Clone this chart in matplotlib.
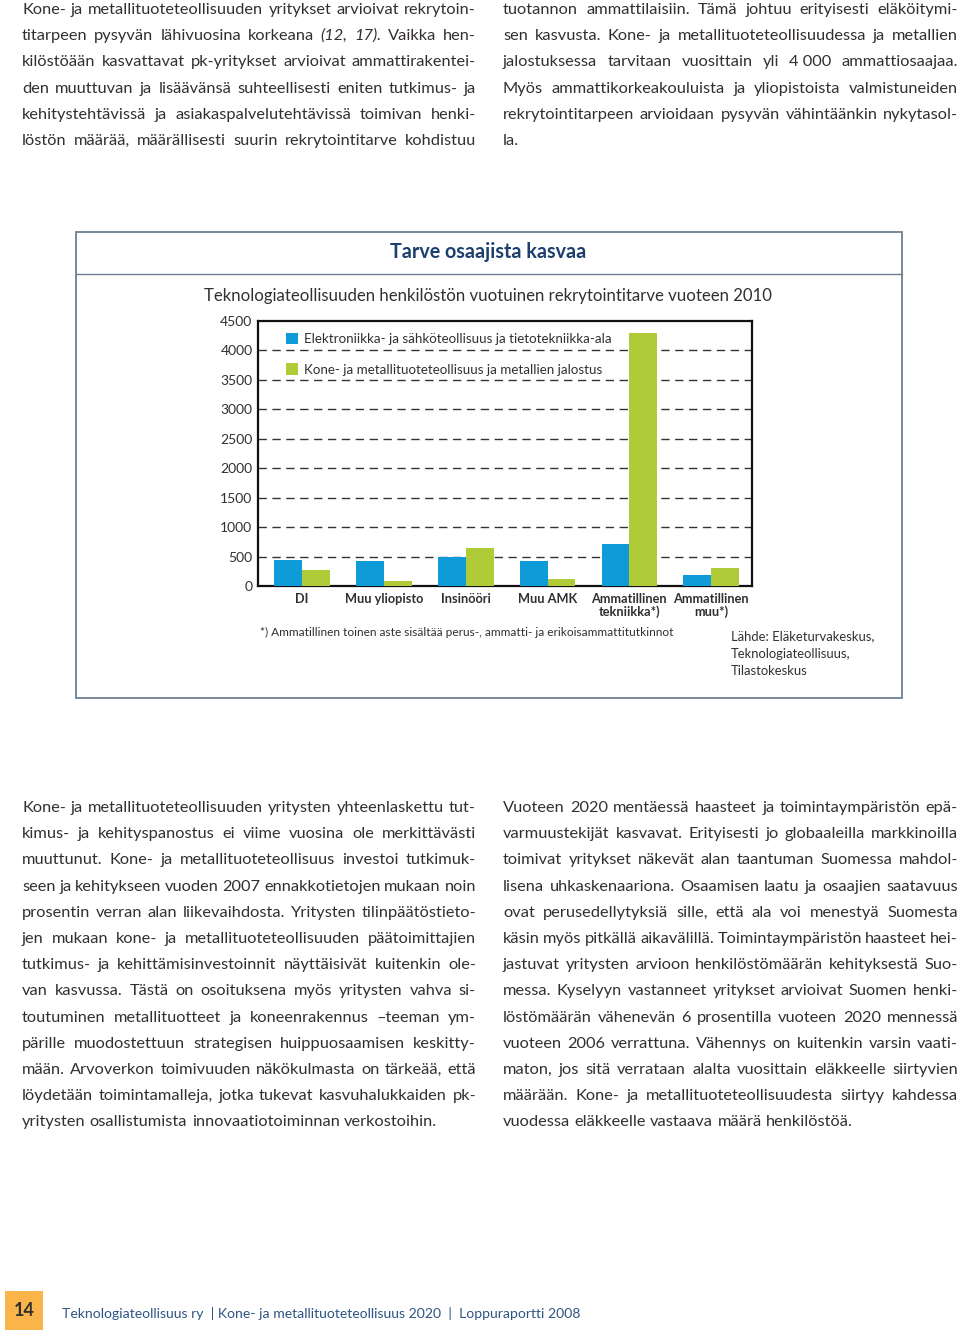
import matplotlib
matplotlib.use('Agg')
import matplotlib.pyplot as plt
from matplotlib.font_manager import FontProperties
from matplotlib.patches import Rectangle
from matplotlib.lines import Line2D
import numpy as np

# chart data
categories = ['DI', 'Muu yliopisto', 'Insinööri', 'Muu AMK',
              'Ammatillinen\ntekniikka*)', 'Ammatillinen\nmuu*)']
elektroniikka = [450, 420, 500, 420, 710, 180]
kone_metalli = [270, 90, 650, 120, 4300, 300]
series_names = ['Elektroniikka- ja sähköteollisuus ja tietotekniikka-ala',
                'Kone- ja metallituoteteollisuus ja metallien jalostus']
yticks = [0, 500, 1000, 1500, 2000, 2500, 3000, 3500, 4000, 4500]

title = 'Tarve osaajista kasvaa'
subtitle = 'Teknologiateollisuuden henkilöstön vuotuinen rekrytointitarve vuoteen 2010'
footnote = '*) Ammatillinen toinen aste sisältää perus-, ammatti- ja erikoisammattitutkinnot'
source = 'Lähde: Eläketurvakeskus,\nTeknologiateollisuus,\nTilastokeskus'

# body text, one entry per printed line ("~" marks italic words)
top_left = [
    'Kone- ja metallituoteteollisuuden yritykset arvioivat rekrytoin-',
    'titarpeen pysyvän lähivuosina korkeana ~(12, ~17). Vaikka hen-',
    'kilöstöään kasvattavat pk-yritykset arvioivat ammattirakentei-',
    'den muuttuvan ja lisäävänsä suhteellisesti eniten tutkimus- ja',
    'kehitystehtävissä ja asiakaspalvelutehtävissä toimivan henki-',
    'löstön määrää, määrällisesti suurin rekrytointitarve kohdistuu',
]
top_right = [
    'tuotannon ammattilaisiin. Tämä johtuu erityisesti eläköitymi-',
    'sen kasvusta. Kone- ja metallituoteteollisuudessa ja metallien',
    'jalostuksessa tarvitaan vuosittain yli 4\u00a0000 ammattiosaajaa.',
    'Myös ammattikorkeakouluista ja yliopistoista valmistuneiden',
    'rekrytointitarpeen arvioidaan pysyvän vähintäänkin nykytasol-',
    'la.',
]
bottom_left = [
    'Kone- ja metallituoteteollisuuden yritysten yhteenlaskettu tut-',
    'kimus- ja kehityspanostus ei viime vuosina ole merkittävästi',
    'muuttunut. Kone- ja metallituoteteollisuus investoi tutkimuk-',
    'seen ja kehitykseen vuoden 2007 ennakkotietojen mukaan noin',
    'prosentin verran alan liikevaihdosta. Yritysten tilinpäätöstieto-',
    'jen mukaan kone- ja metallituoteteollisuuden päätoimittajien',
    'tutkimus- ja kehittämisinvestoinnit näyttäisivät kuitenkin ole-',
    'van kasvussa. Tästä on osoituksena myös yritysten vahva si-',
    'toutuminen metallituotteet ja koneenrakennus –teeman ym-',
    'pärille muodostettuun strategisen huippuosaamisen keskitty-',
    'mään. Arvoverkon toimivuuden näkökulmasta on tärkeää, että',
    'löydetään toimintamalleja, jotka tukevat kasvuhalukkaiden pk-',
    'yritysten osallistumista innovaatiotoiminnan verkostoihin.',
]
bottom_right = [
    'Vuoteen 2020 mentäessä haasteet ja toimintaympäristön epä-',
    'varmuustekijät kasvavat. Erityisesti jo globaaleilla markkinoilla',
    'toimivat yritykset näkevät alan taantuman Suomessa mahdol-',
    'lisena uhkaskenaariona. Osaamisen laatu ja osaajien saatavuus',
    'ovat perusedellytyksiä sille, että ala voi menestyä Suomesta',
    'käsin myös pitkällä aikavälillä. Toimintaympäristön haasteet hei-',
    'jastuvat yritysten arvioon henkilöstömäärän kehityksestä Suo-',
    'messa. Kyselyyn vastanneet yritykset arvioivat Suomen henki-',
    'löstömäärän vähenevän 6 prosentilla vuoteen 2020 mennessä',
    'vuoteen 2006 verrattuna. Vähennys on kuitenkin varsin vaati-',
    'maton, jos sitä verrataan alalta vuosittain eläkkeelle siirtyvien',
    'määrään. Kone- ja metallituoteteollisuudesta siirtyy kahdessa',
    'vuodessa eläkkeelle vastaava määrä henkilöstöä.',
]
footer = 'Teknologiateollisuus ry  | Kone- ja metallituoteteollisuus 2020  |  Loppuraportti 2008'
page_no = '14'

BLUE = '#0f9ad8'
GREEN = '#afcb37'
TEXT = '#332f30'
FRAME = '#6d8093'

W, H = 960, 1333
plt.rcParams['font.family'] = ['Lato', 'DejaVu Sans']
fig = plt.figure(figsize=(W / 100, H / 100), dpi=100)
renderer = fig.canvas.get_renderer()


def fx(x):
    return x / W


def fy(y):
    return 1 - y / H


body_fp = FontProperties(family=['Lato', 'DejaVu Sans'], size=11.8)
ital_fp = FontProperties(family=['Lato', 'DejaVu Sans'], style='italic', size=11.8)


def text_w(s, fp):
    return renderer.get_text_width_height_descent(s, fp, ismath=False)[0]


def put_block(lines, x0, x1, y0, step, last_justified=False):
    for i, line in enumerate(lines):
        y = round(y0 + i * step)  # whole pixels keep the words on one baseline
        words = line.split(' ')
        last = (i == len(lines) - 1) and not last_justified
        props = [ital_fp if w.startswith('~') else body_fp for w in words]
        words = [w.lstrip('~') for w in words]
        widths = [text_w(w, p) for w, p in zip(words, props)]
        if last or len(words) == 1:
            gap = text_w('a a', body_fp) - text_w('aa', body_fp)
        else:
            gap = (x1 - x0 - sum(widths)) / (len(words) - 1)
        x = x0
        for w, p, wd in zip(words, props, widths):
            fig.text(fx(x), fy(y), w, fontproperties=p, color=TEXT,
                     ha='left', va='baseline')
            x += wd + gap


put_block(top_left, 22, 476, 14, 26.2, last_justified=True)
put_block(top_right, 503, 958, 14, 26.2)
put_block(bottom_left, 22, 476, 812, 26.2)
put_block(bottom_right, 503, 958, 812, 26.2)

# chart frame
fig.patches.append(Rectangle((fx(76), fy(698)), fx(902) - fx(76), fy(232) - fy(698),
                             transform=fig.transFigure, fill=False,
                             edgecolor=FRAME, lw=1.3))
fig.lines.append(Line2D([fx(76), fx(902)], [fy(274), fy(274)],
                        transform=fig.transFigure, color=FRAME, lw=1.0))
fig.text(fx(488), fy(252), title, ha='center', va='center', fontsize=14.2,
         fontweight='bold', color='#1c3f6e')
fig.text(fx(488), fy(296), subtitle, ha='center', va='center', fontsize=12.1,
         color=TEXT)

ax = fig.add_axes([fx(258), fy(586), fx(752) - fx(258), fy(321) - fy(586)])
x = np.arange(len(categories))
bw = 0.34
ax.bar(x - bw / 2, elektroniikka, bw, color=BLUE, zorder=3, label=series_names[0])
ax.bar(x + bw / 2, kone_metalli, bw, color=GREEN, zorder=3, label=series_names[1])
ax.set_xlim(-0.54, 5.5)
ax.set_ylim(0, 4500)
ax.set_yticks(yticks)
ax.set_yticklabels([str(v) for v in yticks], fontsize=10, color=TEXT)
ax.set_xticks(x)
ax.set_xticklabels(categories, fontsize=9.2, fontweight='bold', color=TEXT,
                   linespacing=1.0)
ax.tick_params(axis='both', length=0)
ax.tick_params(axis='x', pad=5)
ax.tick_params(axis='y', pad=4)
for v in yticks[1:-1]:
    ax.axhline(v, color='#333333', lw=1.0, dashes=(6, 4), zorder=1)
for s in ax.spines.values():
    s.set_linewidth(1.6)
    s.set_color('#111111')
ax.legend(loc='upper left', bbox_to_anchor=(0.045, 0.975), frameon=False,
          fontsize=9.6, handlelength=0.95, handleheight=0.95, handletextpad=0.45,
          labelspacing=1.35, borderaxespad=0, labelcolor=TEXT)

fig.text(fx(260), fy(632), footnote, ha='left', va='center', fontsize=8.6,
         color=TEXT)
fig.text(fx(731), fy(630), source, ha='left', va='top', fontsize=9.4,
         color=TEXT, linespacing=1.55)

# footer
fig.patches.append(Rectangle((fx(5), fy(1330)), fx(43) - fx(5), fy(1291) - fy(1330),
                             transform=fig.transFigure, color='#f9b54a', lw=0))
fig.text(fx(24), fy(1311), page_no, ha='center', va='center', fontsize=13,
         fontweight='bold', color=TEXT)
fig.text(fx(62), fy(1313), footer, ha='left', va='center', fontsize=10.1,
         color='#2e5584')

fig.savefig('out.png', dpi=100)
